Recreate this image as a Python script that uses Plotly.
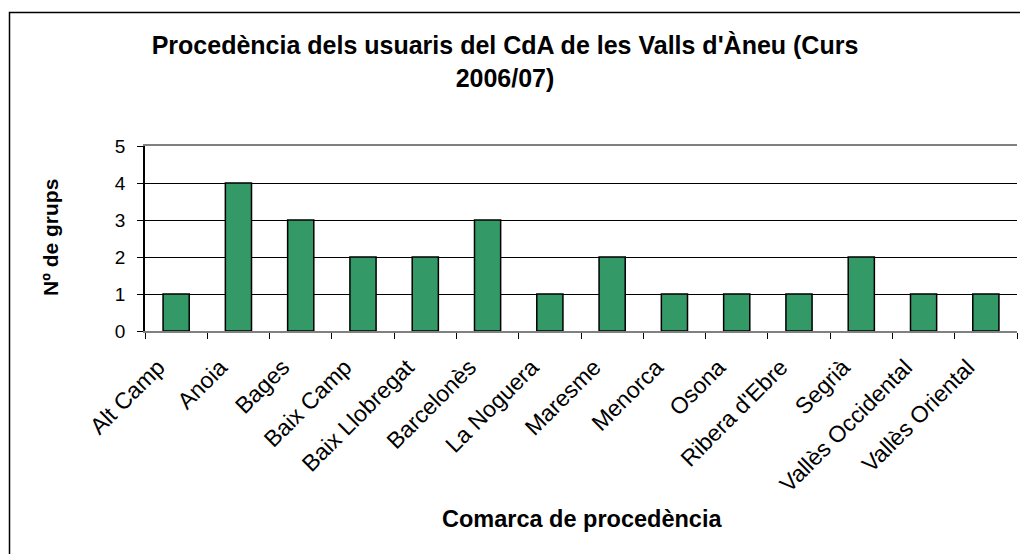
import plotly.graph_objects as go

categories = ["Alt Camp", "Anoia", "Bages", "Baix Camp", "Baix Llobregat", "Barcelonès",
              "La Noguera", "Maresme", "Menorca", "Osona", "Ribera d'Ebre", "Segrià",
              "Vallès Occidental", "Vallès Oriental"]
values = [1, 4, 3, 2, 2, 3, 1, 2, 1, 1, 1, 2, 1, 1]
y_ticks = [0, 1, 2, 3, 4, 5]

W, H = 1020, 554
L, R, T, B = 145, 3, 146, 223
pw, ph = W - L - R, H - T - B

def px_x(x):
    return (x - L) / pw

def px_y(y):
    return (H - B - y) / ph

fig = go.Figure(go.Bar(
    x=categories, y=values,
    marker=dict(color="#339966", line=dict(color="#000000", width=1.5)),
    width=0.42,
))

fig.update_layout(
    width=W, height=H,
    margin=dict(l=L, r=R, t=T, b=B),
    paper_bgcolor="white", plot_bgcolor="white",
    font=dict(family="Arial, Liberation Sans, sans-serif", color="black"),
    showlegend=False,
    title=dict(text="<b>Procedència dels usuaris del CdA de les Valls d'Àneu (Curs<br>2006/07)</b>",
               x=px_x(505), xanchor="center", xref="paper",
               y=(H - 54) / H, yanchor="middle",
               font=dict(size=25)),
    xaxis=dict(
        type="category", tickangle=-45, tickfont=dict(size=23),
        ticks="outside", ticklen=6, tickcolor="#000", tickson="boundaries",
        showline=True, linecolor="#808080", linewidth=1.5, mirror=True,
        showgrid=False, ticklabelshift=-18, ticklabelstandoff=12,
    ),
    yaxis=dict(
        range=[0, 5], tickvals=y_ticks, tickfont=dict(size=19),
        ticks="outside", ticklen=6, tickcolor="#000",
        showline=True, linecolor="#000", linewidth=1.5,
        gridcolor="#000", gridwidth=1,
        zeroline=False, ticklabelstandoff=8,
    ),
    annotations=[
        dict(text="<b>Comarca de procedència</b>", xref="paper", yref="paper",
             x=px_x(582), y=px_y(519), xanchor="center", yanchor="middle",
             showarrow=False, font=dict(size=23.5)),
        dict(text="<b>Nº de grups</b>", xref="paper", yref="paper",
             x=px_x(50), y=px_y(238), xanchor="center", yanchor="middle",
             textangle=-90, showarrow=False, font=dict(size=21)),
    ],
    shapes=[dict(type="rect", xref="paper", yref="paper",
                 x0=px_x(9.5), x1=px_x(1030), y0=px_y(560), y1=px_y(12.5),
                 line=dict(color="black", width=1.5), fillcolor="rgba(0,0,0,0)",
                 layer="above")],
)

fig.write_html("out.html", config={"displayModeBar": False},
               post_script="document.body.style.margin='0';document.body.style.overflow='hidden';")
